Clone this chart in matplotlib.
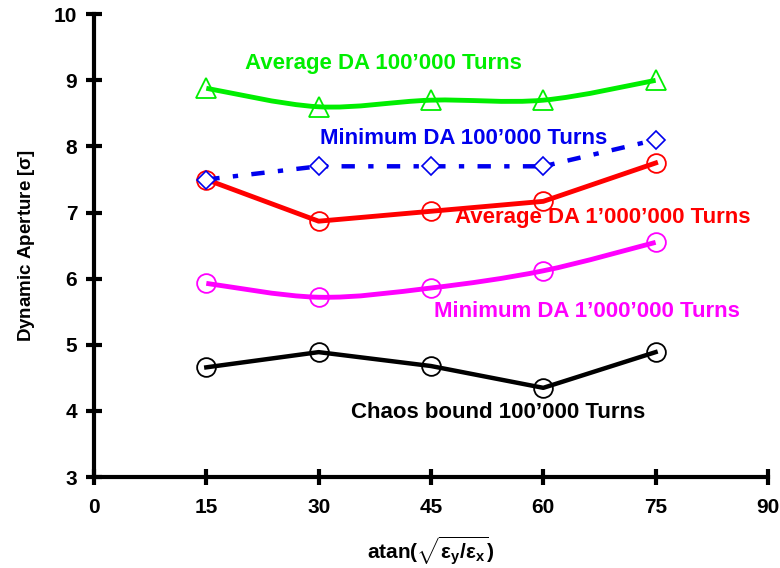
import numpy as np
import matplotlib.pyplot as plt
from matplotlib.path import Path
from matplotlib.patches import PathPatch

plt.rcParams['font.family'] = ['Liberation Sans', 'DejaVu Sans']
plt.rcParams['font.weight'] = 'bold'
plt.rcParams['mathtext.fontset'] = 'custom'
plt.rcParams['mathtext.rm'] = 'Liberation Sans:bold'
plt.rcParams['mathtext.it'] = 'Liberation Sans:bold'

angles = [15, 30, 45, 60, 75]
avg_da_1e5 = [8.88, 8.60, 8.70, 8.70, 9.00]
min_da_1e5 = [7.50, 7.70, 7.70, 7.70, 8.10]
avg_da_1e6 = [7.50, 6.87, 7.02, 7.17, 7.75]
min_da_1e6 = [5.93, 5.72, 5.86, 6.12, 6.55]
chaos_1e5 = [4.66, 4.89, 4.68, 4.35, 4.89]

x_ticks = [0, 15, 30, 45, 60, 75, 90]
y_ticks = [3, 4, 5, 6, 7, 8, 9, 10]


def smooth_path(x, y):
    # Catmull-Rom style bezier through the data points
    x = np.asarray(x, float)
    y = np.asarray(y, float)
    verts = [(x[0], y[0])]
    codes = [Path.MOVETO]
    n = len(x)
    for i in range(n - 1):
        p0 = np.array([x[max(i - 1, 0)], y[max(i - 1, 0)]])
        p1 = np.array([x[i], y[i]])
        p2 = np.array([x[i + 1], y[i + 1]])
        p3 = np.array([x[min(i + 2, n - 1)], y[min(i + 2, n - 1)]])
        c1 = p1 + (p2 - p0) / 6
        c2 = p2 - (p3 - p1) / 6
        verts += [tuple(c1), tuple(c2), tuple(p2)]
        codes += [Path.CURVE4] * 3
    return Path(verts, codes)


fig = plt.figure(figsize=(7.8, 5.68), dpi=100)
ax = fig.add_axes([0.1205, 0.160, 0.864, 0.815])

# smooth curves
ax.add_patch(PathPatch(smooth_path(angles, avg_da_1e5), facecolor='none',
                       edgecolor='#00ee00', lw=3.5, zorder=2))
ax.add_patch(PathPatch(smooth_path(angles, min_da_1e6), facecolor='none',
                       edgecolor='#ff00ff', lw=3.5, zorder=2))
ax.plot(angles, avg_da_1e5, ls='none', marker='^', ms=14, mfc='none',
        mec='#00ee00', mew=1.3, zorder=3)
ax.plot(angles, min_da_1e6, ls='none', marker='o', ms=13.5, mfc='none',
        mec='#ff00ff', mew=1.3, zorder=3)

ax.plot(angles, avg_da_1e6, color='red', lw=3.5, marker='o', ms=13.5,
        mfc='none', mec='red', mew=1.3, zorder=3)
ax.plot(angles, chaos_1e5, color='black', lw=3.2, marker='o', ms=13.5,
        mfc='none', mec='black', mew=1.3, zorder=3)
ax.plot(angles, min_da_1e5, color='#0000ee', lw=3.2, ls=(0, (3, 3, 1.2, 3)),
        marker='D', ms=9.5, mfc='white', mec='#0000ee', mew=1.2, zorder=4)

lab_size = 16
ax.text(38.6, 9.26, "Average DA 100\u2019000 Turns", color='#00ee00',
        ha='center', va='center', fontsize=lab_size, fontweight='bold')
ax.text(49.3, 8.12, "Minimum DA 100\u2019000 Turns", color='#0000ee',
        ha='center', va='center', fontsize=lab_size, fontweight='bold')
ax.text(68.0, 6.93, "Average DA 1\u2019000\u2019000 Turns", color='red',
        ha='center', va='center', fontsize=lab_size, fontweight='bold')
ax.text(65.8, 5.51, "Minimum DA 1\u2019000\u2019000 Turns", color='#ff00ff',
        ha='center', va='center', fontsize=lab_size, fontweight='bold')
ax.text(54.0, 3.98, "Chaos bound 100\u2019000 Turns", color='black',
        ha='center', va='center', fontsize=lab_size, fontweight='bold')

ax.set_xlim(0, 90)
ax.set_ylim(3, 10)
ax.set_xticks(x_ticks)
ax.set_yticks(y_ticks)
ax.spines['top'].set_visible(False)
ax.spines['right'].set_visible(False)
ax.spines['left'].set_linewidth(3)
ax.spines['bottom'].set_linewidth(3)
ax.tick_params(direction='inout', length=12, width=3, labelsize=15)
ax.tick_params(axis='x', pad=9)
ax.tick_params(axis='y', pad=6)
for lab in ax.get_xticklabels() + ax.get_yticklabels():
    lab.set_fontweight('bold')

ax.set_ylabel(r"Dynamic Aperture [$\sigma$]", fontsize=13.5,
              fontweight='bold', labelpad=12)
ax.set_xlabel(r"atan($\sqrt{\varepsilon_y/\varepsilon_x}$)", fontsize=15,
              fontweight='bold', labelpad=12)

fig.savefig('out.png', dpi=100)
